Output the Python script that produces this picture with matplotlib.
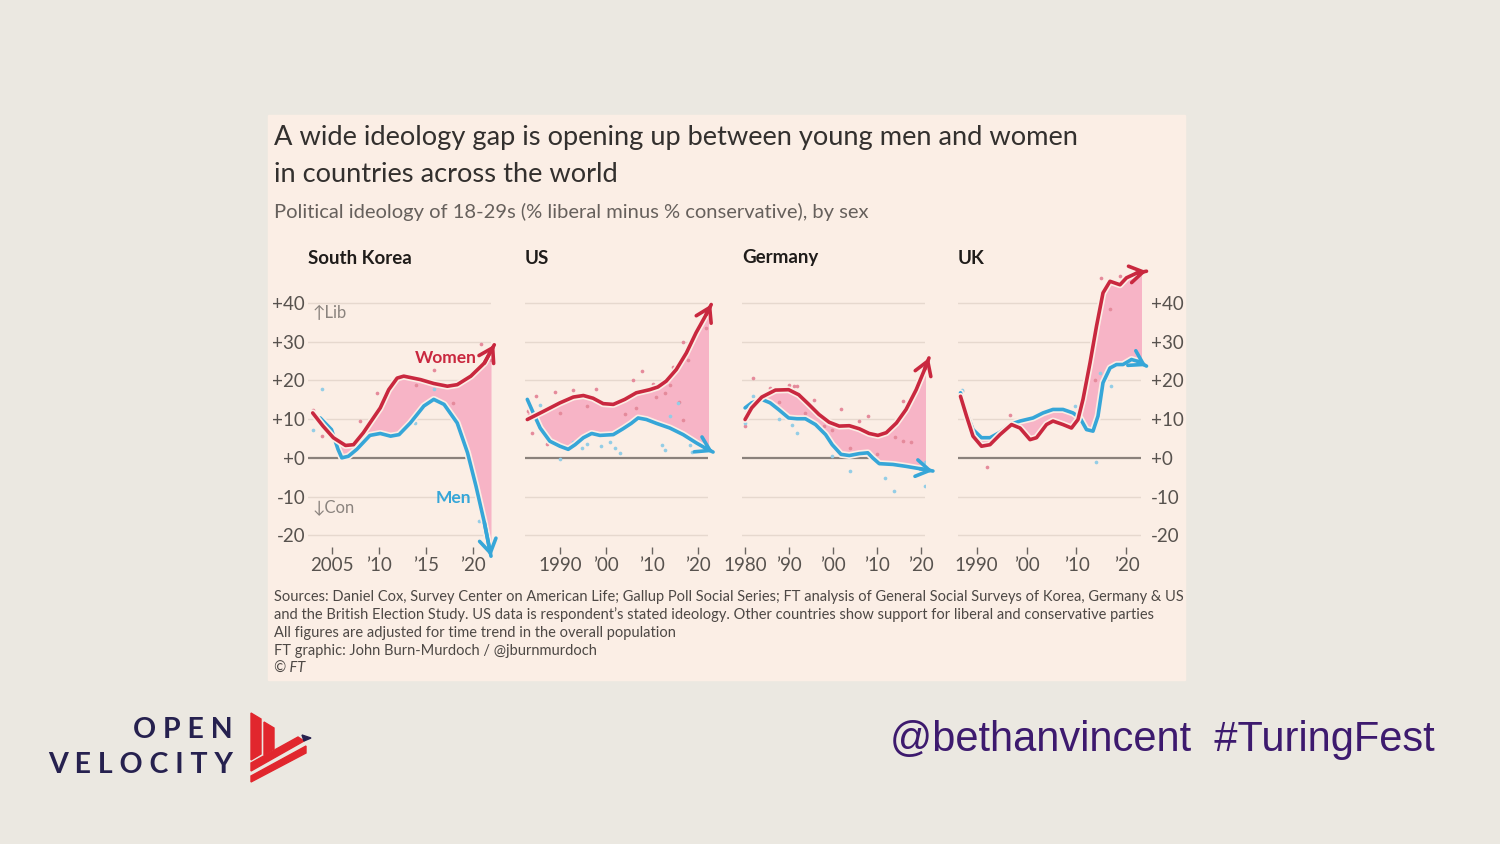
import numpy as np
import matplotlib.pyplot as plt
import matplotlib.patheffects as pe
from matplotlib.patches import Rectangle, Polygon

plt.rcParams['font.family'] = ['Lato', 'DejaVu Sans']

# ---- data ----
countries = ['South Korea', 'US', 'Germany', 'UK']

sk_women_x = [2002.9, 2004.0, 2005.1, 2006.4, 2007.25, 2008.3, 2009.0, 2010.1, 2011.0, 2011.9,
              2012.6, 2014.4, 2015.8, 2017.25, 2018.3, 2019.75, 2021.2, 2022.25]
sk_women_y = [11.6, 8.2, 5.2, 3.2, 3.4, 6.5, 9.0, 12.9, 17.6, 20.6, 21.1, 20.2, 19.2, 18.5,
              18.9, 21.1, 24.5, 29.2]
sk_men_x = [2003.7, 2004.9, 2005.6, 2006.0, 2006.7, 2007.6, 2009.0, 2010.1, 2011.2, 2012.1,
            2013.3, 2014.75, 2015.8, 2016.9, 2018.3, 2019.4, 2020.3, 2021.2, 2021.9]
sk_men_y = [10.3, 7.3, 2.2, 0.0, 0.4, 2.2, 5.8, 6.3, 5.6, 6.0, 9.0, 13.4, 15.1, 13.8, 9.0,
            1.3, -7.3, -16.8, -25.4]

us_women_x = [1982.9, 1986.4, 1990.0, 1992.9, 1995.1, 1997.2, 1999.4, 2001.6, 2004.1, 2006.6,
              2009.5, 2011.3, 2013.1, 2015.3, 2017.5, 2019.6, 2021.8, 2022.9]
us_women_y = [9.9, 12.0, 14.2, 15.7, 16.1, 15.4, 14.0, 13.8, 15.1, 16.8, 17.6, 18.3, 19.8,
              22.8, 27.1, 32.3, 37.0, 39.6]
us_men_x = [1982.9, 1984.2, 1985.7, 1987.8, 1990.0, 1991.8, 1993.3, 1995.1, 1996.9, 1998.7,
            2001.6, 2003.7, 2005.5, 2007.0, 2008.8, 2011.0, 2013.9, 2016.8, 2019.6, 2021.5, 2023.3]
us_men_y = [15.1, 11.6, 7.7, 4.3, 3.0, 2.2, 3.4, 5.2, 6.3, 5.8, 6.0, 7.5, 8.9, 10.3, 9.9,
            8.9, 7.7, 6.0, 3.9, 2.6, 1.5]

de_women_x = [1980.0, 1981.5, 1983.8, 1986.9, 1989.9, 1992.2, 1994.5, 1996.8, 1999.1, 2001.4,
              2003.7, 2006.0, 2008.2, 2010.2, 2012.1, 2014.4, 2016.6, 2018.9, 2020.8, 2021.8]
de_women_y = [9.9, 12.9, 15.7, 17.5, 17.6, 16.3, 13.8, 11.2, 9.2, 8.2, 8.3, 7.5, 6.3, 5.8,
              6.5, 9.0, 12.5, 17.6, 22.8, 25.8]
de_men_x = [1980.0, 1981.5, 1983.8, 1985.7, 1987.6, 1989.9, 1991.8, 1993.7, 1996.0, 1998.3,
            1999.8, 2001.8, 2003.7, 2006.0, 2007.9, 2009.0, 2010.5, 2013.6, 2016.6, 2019.7, 2022.7]
de_men_y = [12.9, 14.2, 15.1, 14.2, 12.5, 10.3, 10.1, 10.1, 8.6, 6.0, 3.4, 0.9, 0.6, 1.1,
            1.3, 0.0, -1.5, -1.7, -2.2, -2.8, -3.4]

uk_women_x = [1986.8, 1988.0, 1989.3, 1991.0, 1992.7, 1994.7, 1997.0, 1998.7, 2000.7, 2002.0,
              2004.0, 2005.3, 2007.3, 2009.0, 2010.3, 2011.3, 2012.7, 2014.0, 2015.3, 2016.7,
              2018.7, 2020.0, 2022.0, 2024.0]
uk_women_y = [15.9, 10.8, 5.6, 3.0, 3.4, 6.0, 8.6, 7.7, 4.7, 5.2, 8.6, 9.5, 8.6, 7.7, 9.9,
              15.1, 24.5, 34.0, 42.6, 45.6, 44.7, 46.5, 47.7, 48.2]
uk_men_x = [1986.8, 1988.0, 1989.3, 1991.0, 1992.7, 1994.7, 1996.7, 1998.7, 2001.3, 2003.3,
            2005.3, 2007.3, 2009.3, 2010.7, 2012.0, 2013.3, 2014.3, 2015.3, 2016.7, 2018.0,
            2019.3, 2021.0, 2022.3, 2024.0]
uk_men_y = [16.8, 11.6, 7.3, 5.2, 5.2, 6.6, 8.6, 9.5, 10.3, 11.6, 12.5, 12.5, 11.6, 10.3,
            7.3, 6.9, 10.8, 19.4, 23.2, 24.1, 24.1, 25.4, 24.9, 23.7]

# individual survey points
sk_wdot_x = [2002.9, 2003.9, 2007.9, 2009.8, 2013.9, 2015.8, 2017.8, 2020.8, 2021.9]
sk_wdot_y = [12.3, 5.6, 9.5, 16.8, 18.7, 22.7, 14.2, 29.3, 25.3]
sk_mdot_x = [2003.9, 2002.9, 2004.9, 2006.9, 2008.9, 2013.8, 2015.8, 2020.6]
sk_mdot_y = [17.9, 7.1, 7.5, 0.9, 5.9, 8.9, 17.7, -16.4]
us_wdot_x = [1983.1, 1983.9, 1984.9, 1987.1, 1988.9, 1990.0, 1992.9, 1995.8, 1997.9, 2003.0,
             2004.1, 2005.9, 2006.6, 2007.9, 2010.2, 2010.9, 2012.8, 2013.9, 2014.6, 2016.0,
             2016.8, 2016.8, 2017.8, 2021.8]
us_wdot_y = [12.0, 6.3, 15.9, 3.6, 17.0, 11.6, 17.5, 13.5, 17.9, 14.6, 11.2, 20.0, 12.9,
             22.4, 19.2, 15.7, 16.8, 18.7, 23.5, 14.4, 29.9, 9.9, 25.2, 33.5]
us_mdot_x = [1985.7, 1990.0, 1992.9, 1994.7, 1995.9, 1999.0, 2000.8, 2001.9, 2003.0, 2004.8,
             2012.1, 2012.8, 2013.9, 2015.7, 2018.2, 2018.8]
us_mdot_y = [13.6, -0.4, 4.0, 2.6, 3.6, 3.0, 4.1, 2.6, 1.3, 8.2, 3.3, 1.9, 10.8, 14.2, 3.3, 1.5]
de_wdot_x = [1980.0, 1981.9, 1985.7, 1987.6, 1989.9, 1991.1, 1991.8, 1993.7, 1995.6, 1997.9,
             1999.8, 2001.8, 2003.8, 2006.0, 2007.9, 2009.9, 2014.0, 2015.9, 2017.8, 2015.9]
de_wdot_y = [8.2, 20.5, 18.1, 14.5, 18.7, 18.5, 18.5, 11.6, 14.9, 8.2, 7.3, 12.7, 2.6, 9.5,
             10.8, 1.1, 5.4, 4.3, 4.1, 14.6]
de_mdot_x = [1980.0, 1981.7, 1987.6, 1990.7, 1991.8, 1999.8, 2003.8, 2011.9, 2013.8, 2020.8, 2020.8]
de_mdot_y = [9.0, 15.9, 10.1, 8.4, 6.3, 0.4, -3.4, -5.2, -8.6, -7.3, -1.1]
uk_wdot_x = [1987.0, 1992.0, 1996.8, 2013.7, 2014.9, 2016.8, 2018.8]
uk_wdot_y = [17.2, -2.3, 11.0, 20.2, 46.5, 38.5, 46.9]
uk_mdot_x = [1987.0, 2009.7, 2013.9, 2014.7, 2017.0]
uk_mdot_y = [17.6, 13.3, -1.0, 21.9, 18.5]

x_ticks = [[2005, 2010, 2015, 2020], [1990, 2000, 2010, 2020],
           [1980, 1990, 2000, 2010, 2020], [1990, 2000, 2010, 2020]]
x_ticklabels = [['2005', '’10', '’15', '’20'], ['1990', '’00', '’10', '’20'],
                ['1980', '’90', '’00', '’10', '’20'], ['1990', '’00', '’10', '’20']]
x_limits = [(2002.4, 2021.9), (1982.4, 2022.2), (1979.3, 2020.9), (1986.3, 2022.9)]
y_ticks = [-20, -10, 0, 10, 20, 30, 40]
y_ticklabels = ['-20', '-10', '+0', '+10', '+20', '+30', '+40']

series = [
    (sk_women_x, sk_women_y, sk_men_x, sk_men_y, sk_wdot_x, sk_wdot_y, sk_mdot_x, sk_mdot_y),
    (us_women_x, us_women_y, us_men_x, us_men_y, us_wdot_x, us_wdot_y, us_mdot_x, us_mdot_y),
    (de_women_x, de_women_y, de_men_x, de_men_y, de_wdot_x, de_wdot_y, de_mdot_x, de_mdot_y),
    (uk_women_x, uk_women_y, uk_men_x, uk_men_y, uk_wdot_x, uk_wdot_y, uk_mdot_x, uk_mdot_y),
]

# ---- styling ----
W, H = 1500, 844
SLIDE = '#ebe8e1'
CARD = '#fbeee5'
RED = '#c9283f'
BLUE = '#36a6d8'
PINK = '#f7b4c6'
TXT = '#33302e'
GREY = '#57524e'
GRID = '#e6d8ce'


def fx(px):
    return px / W


def fy(py):
    return 1 - py / H


fig = plt.figure(figsize=(15, 8.44), dpi=100, facecolor=SLIDE)

# FT card
fig.patches.append(Rectangle((fx(268), fy(680)), (1185 - 268) / W, (680 - 115) / H,
                             transform=fig.transFigure, color=CARD, zorder=-5))

fig.text(fx(274), fy(138), 'A wide ideology gap is opening up between young men and women',
         fontsize=19.6, color=TXT, va='center')
fig.text(fx(274), fy(174), 'in countries across the world', fontsize=19.6, color=TXT, va='center')
fig.text(fx(274), fy(212), 'Political ideology of 18-29s (% liberal minus % conservative), by sex',
         fontsize=14.5, color='#66605c', va='center')

panel_left = [308, 525, 742, 958]
panel_w = 183
ax_top, ax_bot = 264.25, 546.9

stroke = [pe.Stroke(linewidth=5, foreground=CARD), pe.Normal()]

for i, name in enumerate(countries):
    wx, wy, mx, my, wdx, wdy, mdx, mdy = series[i]
    ax = fig.add_axes([fx(panel_left[i]), fy(ax_bot), panel_w / W, (ax_bot - ax_top) / H])
    ax.set_facecolor('none')
    ax.set_xlim(*x_limits[i])
    ax.set_ylim(-23, 50)
    for s in ax.spines.values():
        s.set_visible(False)
    for t in y_ticks:
        if t == 0:
            ax.axhline(t, color='#8a817b', lw=1.6, zorder=1)
        else:
            ax.axhline(t, color=GRID, lw=1.0, zorder=0)

    # gap shading
    xs = np.linspace(max(wx[0], mx[0]), min(wx[-1], mx[-1]), 500)
    ax.fill_between(xs, np.interp(xs, wx, wy), np.interp(xs, mx, my), color=PINK, lw=0, zorder=1)

    ax.scatter(wdx, wdy, s=7, color='#e58a9b', lw=0, zorder=2)
    ax.scatter(mdx, mdy, s=7, color='#93cde6', lw=0, zorder=2)

    for x, y, c in [(mx, my, BLUE), (wx, wy, RED)]:
        ax.plot(x, y, color=c, lw=2.6, solid_capstyle='round', solid_joinstyle='round',
                clip_on=False, zorder=3, path_effects=stroke)
        ax.annotate('', xy=(x[-1], y[-1]), xytext=(x[-2], y[-2]), annotation_clip=False,
                    arrowprops=dict(arrowstyle='->,head_length=0.8,head_width=0.5',
                                    color=c, lw=2.6, shrinkA=0, shrinkB=0,
                                    mutation_scale=12), zorder=4)

    ax.set_xticks(x_ticks[i])
    ax.set_xticklabels(x_ticklabels[i])
    ax.tick_params(axis='x', length=5, width=1, color='#6b6561', labelsize=13.5,
                   labelcolor=GREY, pad=2)
    ax.set_yticks(y_ticks)
    if i == 0:
        ax.set_yticklabels(y_ticklabels)
        ax.tick_params(axis='y', length=0, labelsize=13.5, labelcolor=GREY, pad=2)
    elif i == 3:
        ax.yaxis.tick_right()
        ax.set_yticklabels(y_ticklabels)
        ax.tick_params(axis='y', length=0, labelsize=13.5, labelcolor=GREY, pad=7)
    else:
        ax.set_yticklabels([])
        ax.tick_params(axis='y', length=0)

    fig.text(fx(panel_left[i]), fy(258), name, fontsize=13.5, fontweight='bold',
             color='#1f1c1a', va='center')

    if i == 0:
        ax.text(2002.9, 37.4, '↑Lib', fontsize=12, color='#8a837e', va='center', ha='left')
        ax.text(2002.9, -12.6, '↓Con', fontsize=12, color='#8a837e', va='center', ha='left')
        ax.text(2017.1, 25.8, 'Women', fontsize=12.5, fontweight='bold', color=RED,
                ha='center', va='center')
        ax.text(2017.9, -10.3, 'Men', fontsize=12.5, fontweight='bold', color=BLUE,
                ha='center', va='center')

footer = [
    'Sources: Daniel Cox, Survey Center on American Life; Gallup Poll Social Series; FT analysis '
    'of General Social Surveys of Korea, Germany & US',
    'and the British Election Study. US data is respondent’s stated ideology. Other countries '
    'show support for liberal and conservative parties',
    'All figures are adjusted for time trend in the overall population',
    'FT graphic: John Burn-Murdoch / @jburnmurdoch',
]
for k, line in enumerate(footer):
    fig.text(fx(274), fy(597 + 18 * k), line, fontsize=10.55, color='#4d4845', va='center')
fig.text(fx(274), fy(669), '© FT', fontsize=10.55, color='#4d4845', va='center', style='italic')

# slide branding
fig.text(fx(233), fy(730), 'O P E N', fontsize=20.5, fontweight='bold', color='#26214f',
         ha='right', va='center')
fig.text(fx(233), fy(765), 'V E L O C I T Y', fontsize=20.5, fontweight='bold',
         color='#26214f', ha='right', va='center')
logo = [
    [(251, 713), (261, 719), (261, 754), (251, 760)],
    [(264, 722), (274, 728), (274, 749), (264, 755)],
    [(251, 763), (298, 737), (304, 741), (251, 771)],
    [(251, 776), (306, 746), (306, 753), (251, 782)],
]
for poly in logo:
    fig.patches.append(Polygon([(fx(a), fy(b)) for a, b in poly], closed=True,
                               transform=fig.transFigure, color='#e1262d', zorder=1))
fig.patches.append(Polygon([(fx(302), fy(735)), (fx(311), fy(738)), (fx(304), fy(741))],
                           closed=True, transform=fig.transFigure, color='#26214f', zorder=1))

fig.text(fx(1435), fy(740), '@bethanvincent  #TuringFest', fontsize=30,
         family=['Liberation Sans', 'DejaVu Sans'], color='#3d1a6e', ha='right', va='center')

fig.savefig('out.png', dpi=100, facecolor=SLIDE)
